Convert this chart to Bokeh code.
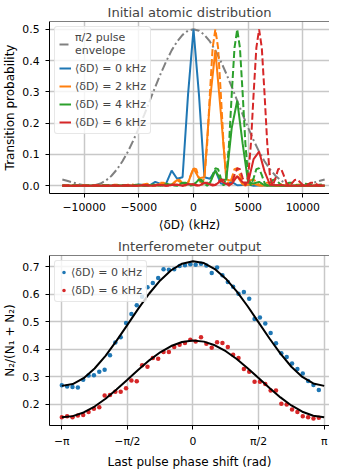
from bokeh.plotting import figure
from bokeh.layouts import column
from bokeh.models import FixedTicker, Legend, LegendItem, Range1d, Span
from bokeh.embed import file_html
from bokeh.resources import INLINE
import math

FONT = "DejaVu Sans"

# ---------------- top panel data ----------------
# coarse detuning grid (kHz) for the solid curves and the envelope
detuning_khz = list(range(-12000, 12001, 500))

envelope = [0.0200, 0.0150, 0.0097, 0.0050, 0.0014, 0.0000, 0.0016, 0.0069, 0.0169, 0.0318, 0.0523, 0.0781,
            0.1091, 0.1452, 0.1849, 0.2275, 0.2716, 0.3158, 0.3582, 0.3975, 0.4326, 0.4611, 0.4823, 0.4957,
            0.5000,
            0.4957, 0.4823, 0.4611, 0.4326, 0.3975, 0.3582, 0.3158, 0.2716, 0.2275, 0.1849, 0.1452, 0.1091,
            0.0781, 0.0523, 0.0318, 0.0169, 0.0069, 0.0016, 0.0000, 0.0014, 0.0050, 0.0097, 0.0150, 0.0200]

solid_0khz = [0.0001, 0, 0, 0, 0, 0, 0, 0,
              0.0001, 0.0002, 0, 0.0008, 0.0008, 0.0001, 0.0035, 0.0023,
              0.0013, 0.0123, 0.0054, 0.0071, 0.0481, 0.0223, 0.0268, 0.2910,
              0.5000,
              0.2910, 0.0268, 0.0223, 0.0481, 0.0071, 0.0054, 0.0123, 0.0013,
              0.0023, 0.0035, 0.0001, 0.0008, 0.0008, 0, 0.0002, 0.0001,
              0, 0, 0, 0, 0, 0, 0, 0.0001]
solid_2khz = [0, 0, 0, 0, 0, 0, 0, 0,
              0, 0.0001, 0.0003, 0, 0.0006, 0.0009, 0, 0.0023,
              0.0021, 0.0003, 0.0067, 0.0039, 0.0020, 0.0180, 0.0072, 0.0088,
              0.0556,
              0.0240, 0.0268, 0.2707, 0.4326, 0.2333, 0.0199, 0.0153, 0.0302,
              0.0040, 0.0028, 0.0057, 0.0005, 0.0008, 0.0010, 0, 0.0001,
              0, 0, 0, 0, 0, 0, 0, 0]
solid_4khz = [0, 0, 0, 0, 0, 0, 0, 0,
              0.0001, 0, 0.0001, 0.0003, 0, 0.0004, 0.0010, 0,
              0.0015, 0.0020, 0, 0.0040, 0.0034, 0.0005, 0.0090, 0.0049,
              0.0023,
              0.0193, 0.0072, 0.0082, 0.0481, 0.0192, 0.0199, 0.1854, 0.2716,
              0.1335, 0.0103, 0.0070, 0.0121, 0.0014, 0.0008, 0.0012, 0.0001,
              0.0001, 0, 0, 0, 0, 0, 0, 0]
solid_6khz = [0, 0, 0, 0, 0, 0, 0, 0,
              0, 0.0001, 0.0001, 0, 0.0004, 0.0001, 0.0003, 0.0010,
              0.0001, 0.0009, 0.0019, 0, 0.0024, 0.0030, 0, 0.0050,
              0.0039,
              0.0005, 0.0090, 0.0046, 0.0020, 0.0155, 0.0054, 0.0056, 0.0302,
              0.0110, 0.0103, 0.0852, 0.1091, 0.0458, 0.0029, 0.0015,
              0.0019, 0.0001, 0, 0, 0, 0, 0.0002, 0, 0.0002]

# dashed (no envelope) line shape, read every 250 kHz away from its centre
dashed_step_khz = 250
dashed_profile = [0.5000, 0.4404, 0.2935, 0.1332, 0.0278, 0.0003, 0.0242, 0.0529, 0.0556, 0.0336,
                  0.0089, 0.0000, 0.0075, 0.0181, 0.0195, 0.0113, 0.0023, 0.0003, 0.0050, 0.0097,
                  0.0093, 0.0046, 0.0005, 0.0007, 0.0039, 0.0062, 0.0050, 0.0019, 0.0000, 0.0010,
                  0.0032, 0.0041, 0.0028, 0.0007, 0.0000, 0.0012, 0.0027, 0.0028, 0.0015, 0.0002,
                  0.0002, 0.0013, 0.0022, 0.0019, 0.0007, 0.0000, 0.0004, 0.0013, 0.0017, 0.0013,
                  0.0004, 0.0000, 0.0005, 0.0012, 0.0013, 0.0009, 0.0001, 0.0002, 0.0008, 0.0011,
                  0.0010, 0.0005, 0.0000, 0.0003, 0.0008, 0.0009, 0.0006, 0.0002, 0.0000, 0.0004,
                  0.0007, 0.0008, 0.0005]
dashed_centres_khz = [2000, 4000, 6000]
fine_khz = list(range(-12000, 12001, dashed_step_khz))

# ---------------- bottom panel data ----------------
n_phase = 49
phase = [-math.pi + i * 2 * math.pi / n_phase for i in range(n_phase)]
ratio_0khz = [0.268, 0.264, 0.262, 0.260, 0.288, 0.304, 0.305, 0.317, 0.325, 0.377, 0.424, 0.443,
              0.495, 0.527, 0.559, 0.590, 0.625, 0.640, 0.658, 0.690, 0.688, 0.690, 0.702, 0.705,
              0.708, 0.706, 0.710, 0.704, 0.676, 0.696, 0.668, 0.644, 0.626, 0.601, 0.607, 0.583,
              0.509, 0.515, 0.493, 0.458, 0.421, 0.385, 0.371, 0.347, 0.327, 0.311, 0.284, 0.269, 0.251]
ratio_6khz = [0.152, 0.156, 0.152, 0.158, 0.160, 0.171, 0.183, 0.188, 0.231, 0.233, 0.245, 0.245,
              0.257, 0.286, 0.283, 0.341, 0.336, 0.367, 0.365, 0.389, 0.389, 0.407, 0.416, 0.422,
              0.434, 0.427, 0.443, 0.419, 0.405, 0.425, 0.422, 0.407, 0.379, 0.367, 0.327, 0.317,
              0.281, 0.281, 0.273, 0.249, 0.249, 0.201, 0.198, 0.180, 0.171, 0.156, 0.152, 0.147, 0.150]

fit_phase = [-math.pi + k * math.pi / 12 for k in range(25)]
fit_0khz = [0.2660, 0.2727, 0.2940, 0.3292, 0.3753, 0.4295, 0.4880, 0.5467, 0.6019, 0.6494, 0.6864,
            0.7101, 0.7190, 0.7124, 0.6909, 0.6558, 0.6096, 0.5554, 0.4970, 0.4383, 0.3831, 0.3356,
            0.2986, 0.2749, 0.2660]
fit_6khz = [0.1520, 0.1561, 0.1693, 0.1909, 0.2193, 0.2527, 0.2887, 0.3249, 0.3589, 0.3881, 0.4109,
            0.4255, 0.4310, 0.4269, 0.4137, 0.3921, 0.3636, 0.3302, 0.2943, 0.2581, 0.2241, 0.1949,
            0.1721, 0.1575, 0.1520]

top_xticks = [-10000, -5000, 0, 5000, 10000]
top_xlabels = ["\u221210000", "\u22125000", "0", "5000", "10000"]
top_yticks = [0.0, 0.1, 0.2, 0.3, 0.4, 0.5]
bot_xticks = [-math.pi, -math.pi / 2, 0, math.pi / 2, math.pi]
bot_xlabels = ["\u2212\u03c0", "\u2212\u03c0/2", "0", "\u03c0/2", "\u03c0"]
bot_yticks = [0.2, 0.3, 0.4, 0.5, 0.6, 0.7]

BLUE, ORANGE, GREEN, RED, GREY = "#1f77b4", "#ff7f0e", "#2ca02c", "#d62728", "#808080"
GRID = "#c8c8c8"


def style(p, xticks, xlabels, yticks, ylabels):
    p.title.text_font = FONT
    p.title.text_font_size = "13.1px"
    p.title.text_font_style = "normal"
    p.title.align = "center"
    p.title.standoff = 4
    p.outline_line_color = None
    for ax in (p.xaxis[0], p.yaxis[0]):
        ax.axis_line_color = "black"
        ax.axis_line_width = 1
        ax.major_tick_out = 4
        ax.major_tick_in = 0
        ax.minor_tick_line_color = None
        ax.major_tick_line_color = "black"
        ax.major_label_text_font = FONT
        ax.major_label_text_font_size = "10.8px"
        ax.major_label_text_color = "black"
        ax.axis_label_text_font = FONT
        ax.axis_label_text_font_size = "12px"
        ax.axis_label_text_font_style = "normal"
        ax.axis_label_text_color = "black"
    p.xaxis[0].ticker = FixedTicker(ticks=xticks)
    p.xaxis[0].major_label_overrides = {t: l for t, l in zip(xticks, xlabels)}
    p.yaxis[0].ticker = FixedTicker(ticks=yticks)
    p.yaxis[0].major_label_overrides = {t: l for t, l in zip(yticks, ylabels)}
    p.xaxis[0].major_label_standoff = 5
    p.yaxis[0].major_label_standoff = 6
    p.xaxis[0].axis_label_standoff = 4
    p.yaxis[0].axis_label_standoff = 2
    p.grid.grid_line_color = GRID
    p.grid.grid_line_width = 1.5
    p.add_layout(Span(location=p.y_range.end, dimension="width", line_color="black", line_width=1))


def legend_style(lg):
    lg.label_text_font = FONT
    lg.label_text_font_size = "11px"
    lg.background_fill_alpha = 0.8
    lg.border_line_color = "#d0d0d0"
    lg.border_line_width = 1
    lg.border_radius = 3
    lg.glyph_width = 12
    lg.glyph_height = 14
    lg.label_height = 14
    lg.label_standoff = 4
    lg.padding = 4
    lg.spacing = 4
    lg.margin = 5


# ---------------- top figure ----------------
p1 = figure(frame_width=280, frame_height=172,
            x_range=Range1d(-13175, 12443), y_range=Range1d(-0.025, 0.525),
            output_backend="svg", toolbar_location=None,
            title="Initial atomic distribution",
            min_border_left=44, min_border_right=0, min_border_top=0, min_border_bottom=0)
p1.xaxis.axis_label = "\u27e8\u03b4D\u27e9 (kHz)"
p1.yaxis.axis_label = "Transition probability"
style(p1, top_xticks, top_xlabels, top_yticks, [f"{t:.1f}" for t in top_yticks])

lw = 2
dash = "7 3"
r_env = p1.line(detuning_khz, envelope, line_color=GREY, line_width=2, line_dash="9 3 2 3")
r0 = p1.line(detuning_khz, solid_0khz, line_color=BLUE, line_width=lw)
solid_renderers = []
for series, colour, centre in zip([solid_2khz, solid_4khz, solid_6khz], [ORANGE, GREEN, RED],
                                  dashed_centres_khz):
    solid_renderers.append(p1.line(detuning_khz, series, line_color=colour, line_width=lw))
    dashed_vals = [dashed_profile[abs(x - centre) // dashed_step_khz] for x in fine_khz]
    p1.line(fine_khz, dashed_vals, line_color=colour, line_width=lw, line_dash=dash)
r2, r4, r6 = solid_renderers

lg1 = Legend(items=[
    LegendItem(label="\u03c0/2 pulse\nenvelope", renderers=[r_env]),
    LegendItem(label="\u27e8\u03b4D\u27e9 = 0 kHz", renderers=[r0]),
    LegendItem(label="\u27e8\u03b4D\u27e9 = 2 kHz", renderers=[r2]),
    LegendItem(label="\u27e8\u03b4D\u27e9 = 4 kHz", renderers=[r4]),
    LegendItem(label="\u27e8\u03b4D\u27e9 = 6 kHz", renderers=[r6]),
], location="top_left")
legend_style(lg1)
p1.add_layout(lg1)

# ---------------- bottom figure ----------------
p2 = figure(frame_width=280, frame_height=170,
            x_range=Range1d(-3.436, 3.269), y_range=Range1d(0.122, 0.74),
            output_backend="svg", toolbar_location=None,
            title="Interferometer output",
            min_border_left=44, min_border_right=0, min_border_top=0, min_border_bottom=0)
p2.xaxis.axis_label = "Last pulse phase shift (rad)"
p2.yaxis.axis_label = "N\u2082/(N\u2081 + N\u2082)"
style(p2, bot_xticks, bot_xlabels, bot_yticks, [f"{t:.1f}" for t in bot_yticks])

s0 = p2.scatter(phase, ratio_0khz, size=4.5, fill_color=BLUE, line_color=None)
s6 = p2.scatter(phase, ratio_6khz, size=4.5, fill_color=RED, line_color=None)
p2.line(fit_phase, fit_0khz, line_color="black", line_width=2)
p2.line(fit_phase, fit_6khz, line_color="black", line_width=2)

lg2 = Legend(items=[
    LegendItem(label="\u27e8\u03b4D\u27e9 = 0 kHz", renderers=[s0]),
    LegendItem(label="\u27e8\u03b4D\u27e9 = 6 kHz", renderers=[s6]),
], location="top_left")
legend_style(lg2)
lg2.glyph_width = 9
lg2.label_standoff = 3
p2.add_layout(lg2)

layout = column(p1, p2, spacing=0)
open("out.html", "w").write(file_html(layout, INLINE))
